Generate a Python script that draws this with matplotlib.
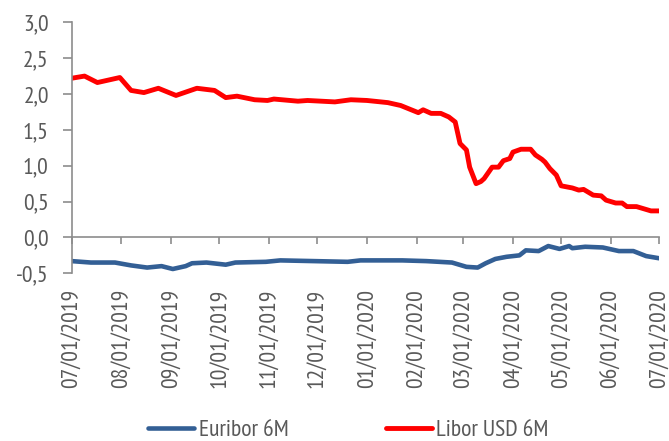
import matplotlib
matplotlib.use("Agg")
import matplotlib.pyplot as plt
import matplotlib.dates as mdates
import matplotlib.ticker as mticker
from matplotlib import font_manager
import pandas as pd

available = {f.name for f in font_manager.fontManager.ttflist}
candidates = ['PT Sans Narrow', 'Fira Sans Condensed', 'Roboto Condensed', 'Asap Condensed',
              'Archivo Narrow', 'Liberation Sans']
chosen = [c for c in candidates if c in available][:1]
plt.rcParams['font.family'] = chosen + ['DejaVu Sans']

libor_dates = ["2019-07-01", "2019-07-09", "2019-07-17", "2019-07-31", "2019-08-07", "2019-08-15",
               "2019-08-24", "2019-09-04", "2019-09-17", "2019-09-28", "2019-10-05", "2019-10-12",
               "2019-10-23", "2019-10-31", "2019-11-04", "2019-11-19", "2019-11-25", "2019-12-12",
               "2019-12-22", "2020-01-01", "2020-01-14", "2020-01-22", "2020-02-02", "2020-02-05",
               "2020-02-10", "2020-02-16", "2020-02-21", "2020-02-25", "2020-02-28", "2020-03-03",
               "2020-03-05", "2020-03-09", "2020-03-12", "2020-03-14", "2020-03-19", "2020-03-23",
               "2020-03-26", "2020-03-30", "2020-04-01", "2020-04-06", "2020-04-12", "2020-04-15",
               "2020-04-19", "2020-04-21", "2020-04-24", "2020-04-28", "2020-05-01", "2020-05-08",
               "2020-05-12", "2020-05-15", "2020-05-21", "2020-05-26", "2020-05-29", "2020-06-04",
               "2020-06-08", "2020-06-11", "2020-06-17", "2020-06-23", "2020-06-26", "2020-07-01"]
libor_values = [2.22, 2.25, 2.16, 2.23, 2.05, 2.02,
                2.08, 1.98, 2.08, 2.05, 1.95, 1.97,
                1.92, 1.91, 1.93, 1.90, 1.91, 1.89,
                1.92, 1.91, 1.88, 1.84, 1.74, 1.78,
                1.73, 1.73, 1.68, 1.61, 1.31, 1.22,
                0.98, 0.75, 0.78, 0.82, 0.98, 0.98,
                1.07, 1.10, 1.19, 1.23, 1.23, 1.15,
                1.09, 1.05, 0.96, 0.87, 0.72, 0.69,
                0.66, 0.67, 0.59, 0.58, 0.52, 0.48,
                0.48, 0.43, 0.43, 0.39, 0.37, 0.37]

euribor_dates = ["2019-07-01", "2019-07-13", "2019-07-28", "2019-08-07", "2019-08-17", "2019-08-26",
                 "2019-09-02", "2019-09-10", "2019-09-14", "2019-09-23", "2019-10-05", "2019-10-11",
                 "2019-10-30", "2019-11-08", "2019-11-29", "2019-12-20", "2019-12-28", "2020-01-23",
                 "2020-02-07", "2020-02-23", "2020-03-03", "2020-03-10", "2020-03-15", "2020-03-21",
                 "2020-03-28", "2020-04-05", "2020-04-09", "2020-04-17", "2020-04-23", "2020-04-30",
                 "2020-05-06", "2020-05-08", "2020-05-16", "2020-05-27", "2020-06-06", "2020-06-15",
                 "2020-06-23", "2020-07-01"]
euribor_values = [-0.33, -0.35, -0.35, -0.39, -0.42, -0.40,
                  -0.44, -0.40, -0.36, -0.35, -0.38, -0.35,
                  -0.34, -0.32, -0.33, -0.34, -0.32, -0.32,
                  -0.33, -0.35, -0.41, -0.42, -0.36, -0.30,
                  -0.27, -0.25, -0.18, -0.19, -0.12, -0.16,
                  -0.12, -0.15, -0.13, -0.14, -0.19, -0.19,
                  -0.26, -0.29]

tick_dates = ["2019-07-01", "2019-08-01", "2019-09-01", "2019-10-01", "2019-11-01", "2019-12-01",
              "2020-01-01", "2020-02-01", "2020-03-01", "2020-04-01", "2020-05-01", "2020-06-01",
              "2020-07-01"]
y_ticks = [-0.5, 0.0, 0.5, 1.0, 1.5, 2.0, 2.5, 3.0]

text_color = "#595959"
axis_color = "#8c8c8c"
blue = "#335f95"
red = "#ff0000"
fs = 17

fig = plt.figure(figsize=(6.69, 4.41), dpi=100)
ax = fig.add_axes([71.7 / 669, 1 - 273.3 / 441, (659 - 71.7) / 669, (273.3 - 22.3) / 441])

ax.plot(pd.to_datetime(euribor_dates), euribor_values, color=blue, lw=3.3,
        solid_joinstyle='round', solid_capstyle='round', label="Euribor 6M")
ax.plot(pd.to_datetime(libor_dates), libor_values, color=red, lw=3.5,
        solid_joinstyle='round', solid_capstyle='round', label="Libor USD 6M")

ax.set_xlim(pd.Timestamp("2019-07-01"), pd.Timestamp("2020-07-01"))
ax.set_ylim(-0.5, 3.0)

ax.spines['top'].set_visible(False)
ax.spines['right'].set_visible(False)
ax.spines['bottom'].set_position(('data', 0))
for s in ['left', 'bottom']:
    ax.spines[s].set_color(axis_color)
    ax.spines[s].set_linewidth(1.2)

ax.set_yticks(y_ticks)
ax.yaxis.set_major_formatter(mticker.FuncFormatter(lambda v, p: f"{v:.1f}".replace('.', ',')))
ax.set_xticks(pd.to_datetime(tick_dates))
ax.xaxis.set_major_formatter(mdates.DateFormatter("%m/%d/%Y"))

ax.tick_params(axis='y', direction='out', length=6.5, width=1.2, color=axis_color,
               labelcolor=text_color, labelsize=fs, pad=10)
ax.tick_params(axis='x', direction='out', length=5, width=1.2, color=axis_color,
               labelcolor=text_color, labelsize=fs, pad=32, labelrotation=90)
for lbl in ax.get_xticklabels():
    lbl.set_verticalalignment('top')
    lbl.set_horizontalalignment('center')

leg = fig.legend(loc='center', bbox_to_anchor=(0.521, 1 - 430 / 441), ncol=2, frameon=False,
                 fontsize=fs, handlelength=1.95, handletextpad=0.2, columnspacing=4.1,
                 labelcolor=text_color, borderpad=0)

fig.savefig("out.png", dpi=100)
